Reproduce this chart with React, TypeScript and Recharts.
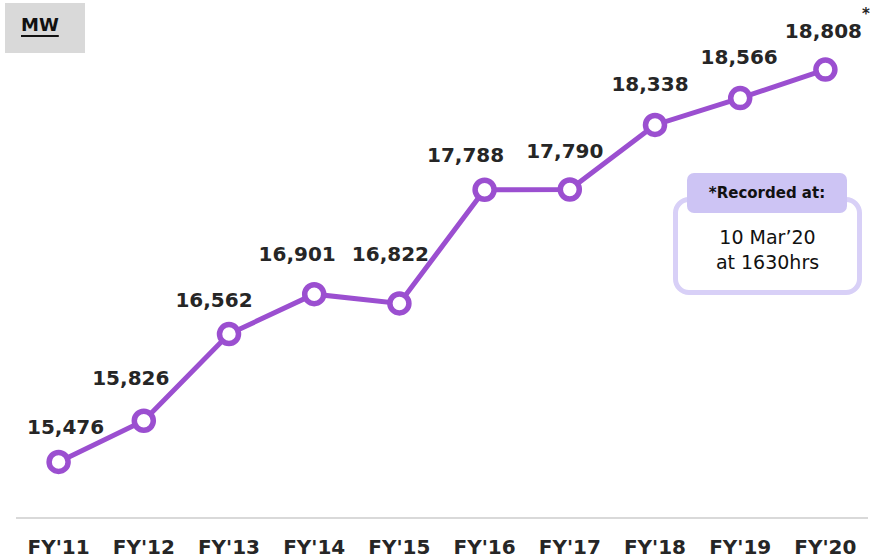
import { LineChart, Line, XAxis, YAxis, LabelList } from 'recharts'

const years = ["FY'11", "FY'12", "FY'13", "FY'14", "FY'15", "FY'16", "FY'17", "FY'18", "FY'19", "FY'20"]
const peakDemand = [15476, 15826, 16562, 16901, 16822, 17788, 17790, 18338, 18566, 18808]

// label nudges (px) so the numbers sit like the original slide
const labelDx = [7, -13, -15, -17, -9, -19, -5, -5, -1, -2]
const labelDy = [-35, -43, -34, -40, -49, -35, -38, -41, -41, -39]

const PURPLE = '#9b4fd0'
const TEXT = '#262626'
const FONT = '"DejaVu Sans", Verdana, sans-serif'

const data = years.map((year, i) => ({ year, mw: peakDemand[i] }))

const fmt = (v: number) => v.toLocaleString('en-US')

const ValueLabel = (props: any) => {
  const { x, y, value, index } = props
  return (
    <text
      x={x + labelDx[index]}
      y={y + labelDy[index]}
      textAnchor="middle"
      dominantBaseline="central"
      fontFamily={FONT}
      fontWeight="bold"
      fontSize={20}
      fill={TEXT}
    >
      {fmt(value)}
    </text>
  )
}

const YearTick = (props: any) => {
  const { x, payload } = props
  return (
    <text x={x} y={554} textAnchor="middle" fontFamily={FONT} fontWeight="bold" fontSize={20} fill={TEXT}>
      {payload.value}
    </text>
  )
}

export default function App() {
  return (
    <div style={{ position: 'relative', width: 888, height: 560, background: '#fff', fontFamily: FONT }}>
      <style>{`body{margin:0}`}</style>
      <LineChart width={888} height={560} data={data} margin={{ top: 47, right: 20, bottom: 0, left: 16 }}>
        <XAxis
          dataKey="year"
          height={42}
          padding={{ left: 42.6, right: 42.6 }}
          tickLine={false}
          axisLine={{ stroke: '#d9d9d9', strokeWidth: 2 }}
          tick={<YearTick />}
          interval={0}
        />
        <YAxis hide domain={[15000, 19000]} />
        <Line
          type="linear"
          dataKey="mw"
          stroke={PURPLE}
          strokeWidth={5}
          dot={{ r: 9.5, fill: '#fff', stroke: PURPLE, strokeWidth: 5.5 }}
          activeDot={false}
          isAnimationActive={false}
        >
          <LabelList dataKey="mw" content={<ValueLabel />} />
        </Line>
      </LineChart>

      <div style={{ position: 'absolute', left: 5, top: 3, width: 80, height: 50, background: '#d9d9d9' }}>
        <span style={{ position: 'absolute', left: 16, top: 11, fontSize: 18, fontWeight: 'bold', color: '#111', textDecoration: 'underline', textDecorationThickness: 2, textUnderlineOffset: 4 }}>MW</span>
      </div>

      <span style={{ position: 'absolute', left: 862, top: 5, fontSize: 15, fontWeight: 'bold', color: TEXT }}>*</span>

      <div style={{ position: 'absolute', left: 673, top: 197, width: 179, height: 88, border: '5px solid #d8d0f7', borderRadius: 16, background: '#fff', boxSizing: 'content-box' }} />
      <div style={{ position: 'absolute', left: 687, top: 173, width: 160, height: 40, background: '#cdc4f4', borderRadius: 7, display: 'flex', alignItems: 'center', justifyContent: 'center', fontSize: 15, fontWeight: 'bold', color: '#111' }}>
        *Recorded at:
      </div>
      <div style={{ position: 'absolute', left: 673, top: 225, width: 189, textAlign: 'center', fontSize: 19, lineHeight: '25px', color: '#111' }}>
        10 Mar’20<br />at 1630hrs
      </div>
    </div>
  )
}
